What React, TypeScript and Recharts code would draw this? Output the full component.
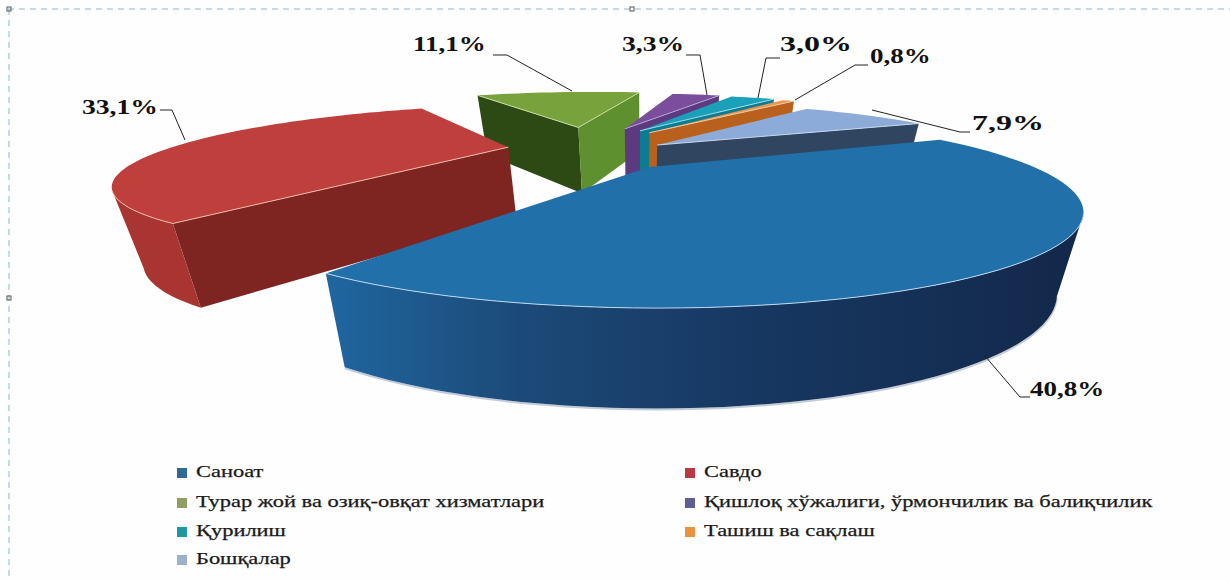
import React from 'react';
import { PieChart, Pie, Legend } from 'recharts';

const categories = ['Саноат', 'Савдо', 'Турар жой ва озиқ-овқат хизматлари', 'Қишлоқ хўжалиги, ўрмончилик ва балиқчилик', 'Қурилиш', 'Ташиш ва сақлаш', 'Бошқалар'];
const shares = [40.8, 33.1, 11.1, 3.3, 3.0, 0.8, 7.9];

const topColors = ['#2270aa', '#bf3f3c', '#77a23c', '#7a4e9c', '#1aa0b8', '#ee9550', '#8dabd8'];
const legendColors = ['#2f6a97', '#b83a44', '#8e9e62', '#5f5f96', '#1f97a0', '#e8913f', '#9fb0cc'];
const startWalls = ['#1d5c90', '#7e2521', '#5f9030', '#5c3a80', '#0c7c90', '#b8601c', '#2f4560'];
const endWalls = ['#1d5c90', '#7e2521', '#2e4a14', '#5c3a80', '#0c7c90', '#b8601c', '#2f4560'];
const rimWalls = ['url(#blueRim)', '#a93532', '#5f9030', '#5c3a80', '#0c7c90', '#b8601c', '#2f4560'];
const edgeColors = ['#bcd8ee', '#f2b9a8', '#c6dca0', '#b9a3d0', '#9fdce6', '#f5c9a0', '#c5d5ee'];
const explodeU = [0.025, -0.38, -0.205, -0.05, 0.0, 0.03, 0.05];
const explodeV = [-0.025, 0.26, 0.63, 0.6, 0.56, 0.52, 0.295];
const rimScale = [0.978, 0.97, 1.06, 1.03, 1.03, 1.03, 1];

const labelLeft = [1030, 82, 413, 622, 780, 870, 972];
const labelBase = [396, 114, 51, 51, 51, 63, 130];
const labelStretch = [1.35, 1.38, 1.35, 1.38, 1.6, 1.35, 1.6];
const leaderPaths = [
  '985,356 1020,397 1030,397',
  '160,110 172,110 185,140',
  '493,55 507,55 572,91',
  '686,55 700,55 707,95',
  '780,58 766,58 758,98',
  '868,65 855,65 795,100',
  '872,110 960,132 970,132',
];

const legendLeft = [177, 685];
const legendRows = [473, 503, 532, 560];

const SQUASH = 0.198;
const PERSP = 0.46;
const WALL_BASE = 41;
const WALL_SCALE = 32;
const WALL_TAPER = 0.94;
const SEAM_ANGLE = 119;
const FULL_TURN = 360;

const toRow = (i: number) => ({ name: categories[i], value: shares[i], idx: i, fill: topColors[i] });
const backRows = [2, 3, 4, 5, 6].map(toRow);
const frontRows = [1, 0].map(toRow);
const sumOf = (list: { value: number }[]) => list.reduce((a, r) => a + r.value, 0);
const total = sumOf(backRows) + sumOf(frontRows);
const backSweep = (sumOf(backRows) / total) * FULL_TURN;
const frontSweep = (sumOf(frontRows) / total) * FULL_TURN;

type Pt = { x: number; y: number; s: number };

function Slice(props: any) {
  const { cx, cy, outerRadius, payload } = props;
  const startAngle = Math.min(props.startAngle, props.endAngle);
  const endAngle = Math.max(props.startAngle, props.endAngle);
  const i: number = payload.idx ?? props.idx;
  const A = outerRadius;
  const B = outerRadius * SQUASH;
  const project = (u: number, v: number): Pt => {
    const s = 1 / (1 + PERSP * v);
    return { x: cx + A * u * s, y: cy - B * v * s, s };
  };
  const rim = (deg: number): Pt => {
    const t = (deg * Math.PI) / 180;
    return project(explodeU[i] + rimScale[i] * Math.cos(t), explodeV[i] + rimScale[i] * Math.sin(t));
  };
  const drop = (p: Pt) => ({ x: cx + (p.x - cx) * WALL_TAPER, y: p.y + WALL_BASE + WALL_SCALE * p.s });
  const apex = project(explodeU[i], explodeV[i]);
  const steps = Math.max(4, Math.ceil((endAngle - startAngle) / 2));
  const arc: Pt[] = [];
  for (let k = 0; k <= steps; k++) arc.push(rim(endAngle - ((endAngle - startAngle) * k) / steps));
  const fmt = (p: { x: number; y: number }) => `${p.x.toFixed(1)},${p.y.toFixed(1)}`;
  const face = (a: Pt, b: Pt) => [a, b, drop(b), drop(a)].map(fmt).join(' ');
  const first = arc[0];
  const last = arc[arc.length - 1];
  const visible: Pt[] = [];
  for (let k = 0; k < arc.length; k++) {
    const goesLeft = k < arc.length - 1 ? arc[k + 1].x < arc[k].x : arc[k].x < arc[k - 1].x;
    if (goesLeft) visible.push(arc[k]);
  }
  const rimPoly = [...visible, ...visible.slice().reverse().map(drop)].map(fmt).join(' ');
  const showEnd = first.x < apex.x;
  const showStart = apex.x < last.x;
  return (
    <g>
      {i === 0 && (
        <defs>
          <linearGradient id="blueRim" gradientUnits="userSpaceOnUse" x1="330" y1="0" x2="1080" y2="0">
            <stop offset="0" stopColor="#1f669f" />
            <stop offset="0.25" stopColor="#1c4a78" />
            <stop offset="0.55" stopColor="#173862" />
            <stop offset="1" stopColor="#13284a" />
          </linearGradient>
        </defs>
      )}
      {i === 0 && visible.length > 1 && (
        <polyline points={visible.map(drop).map((p) => fmt({ x: p.x, y: p.y + 1 })).join(' ')} fill="none" stroke="#c3ccd6" strokeWidth={2} />
      )}
      {showEnd && <polygon points={face(apex, first)} fill={endWalls[i]} />}
      {showStart && <polygon points={face(last, apex)} fill={startWalls[i]} />}
      {visible.length > 1 && <polygon points={rimPoly} fill={rimWalls[i]} />}
      <polygon points={[apex, ...arc].map(fmt).join(' ')} fill={topColors[i]} />
      {visible.length > 1 && (
        <polyline points={visible.map(fmt).join(' ')} fill="none" stroke={edgeColors[i]} strokeWidth={1} />
      )}
      {showEnd && <line x1={apex.x} y1={apex.y} x2={first.x} y2={first.y} stroke={edgeColors[i]} strokeWidth={1} />}
      {showStart && <line x1={apex.x} y1={apex.y} x2={last.x} y2={last.y} stroke={edgeColors[i]} strokeWidth={1} />}
    </g>
  );
}

function SliceLabel(props: any) {
  const i: number = props.payload?.idx ?? props.idx;
  const x = labelLeft[i];
  const y = labelBase[i];
  return (
    <g>
      <polyline points={leaderPaths[i]} fill="none" stroke="#222" strokeWidth={1} />
      <text
        transform={`translate(${x},${y}) scale(${labelStretch[i]},1)`}
        fontFamily="'Liberation Serif', serif"
        fontWeight={700}
        fontSize={20}
        fill="#111"
        textAnchor="start"
      >
        {shares[i].toFixed(1).replace('.', ',')}%
      </text>
    </g>
  );
}

function LegendGrid() {
  const slots = [[0, 0], [1, 0], [0, 1], [1, 1], [0, 2], [1, 2], [0, 3]];
  return (
    <div style={{ position: 'absolute', left: 0, top: 0, width: 1230, height: 581 }}>
      {categories.map((name, i) => {
        const [col, row] = slots[i];
        const y = legendRows[row];
        return (
          <div key={name} style={{ position: 'absolute', left: legendLeft[col], top: y - 12, height: 24, whiteSpace: 'nowrap' }}>
            <span style={{ position: 'absolute', left: 0, top: 7, width: 10, height: 10, background: legendColors[i] }} />
            <span
              style={{
                position: 'absolute',
                left: 19,
                top: 1,
                fontFamily: "'Liberation Serif', serif",
                fontSize: 17,
                lineHeight: '20px',
                color: '#1a1a1a',
                transform: 'scaleX(1.32)',
                transformOrigin: 'left center',
                WebkitTextStroke: '0.25px #1a1a1a',
              }}
            >
              {name}
            </span>
          </div>
        );
      })}
    </div>
  );
}

export default function App() {
  return (
    <div style={{ position: 'absolute', left: 0, top: 0, width: 1230, height: 581, background: '#fefefe', overflow: 'hidden' }}>
      <svg width={1230} height={581} style={{ position: 'absolute', left: 0, top: 0 }}>
        <line x1={8} y1={9} x2={1230} y2={9} stroke="#8fb6cc" strokeWidth={1} strokeDasharray="6 5" />
        <line x1={9} y1={9} x2={9} y2={581} stroke="#8fb6cc" strokeWidth={1} strokeDasharray="6 5" />
        <rect x={7} y={7} width={4} height={4} fill="none" stroke="#555" strokeWidth={1} />
        <rect x={630} y={7} width={4} height={4} fill="none" stroke="#555" strokeWidth={1} />
        <rect x={7} y={296} width={4} height={4} fill="none" stroke="#555" strokeWidth={1} />
      </svg>
      <PieChart width={1230} height={581} margin={{ top: 0, right: 0, bottom: 0, left: 0 }} style={{ position: 'absolute', left: 0, top: 0 }}>
        <Pie
          data={backRows}
          dataKey="value"
          nameKey="name"
          cx={640}
          cy={165}
          innerRadius={0}
          outerRadius={388}
          startAngle={SEAM_ANGLE}
          endAngle={SEAM_ANGLE - backSweep}
          stroke="none"
          isAnimationActive={false}
          shape={Slice}
          label={SliceLabel}
          labelLine={false}
        />
        <Pie
          data={frontRows}
          dataKey="value"
          nameKey="name"
          cx={640}
          cy={165}
          innerRadius={0}
          outerRadius={388}
          startAngle={SEAM_ANGLE}
          endAngle={SEAM_ANGLE + frontSweep}
          stroke="none"
          isAnimationActive={false}
          shape={Slice}
          label={SliceLabel}
          labelLine={false}
        />
        <Legend content={LegendGrid as any} wrapperStyle={{ position: 'absolute', left: 0, top: 0, width: 1230, height: 581, pointerEvents: 'none' }} />
      </PieChart>
    </div>
  );
}
